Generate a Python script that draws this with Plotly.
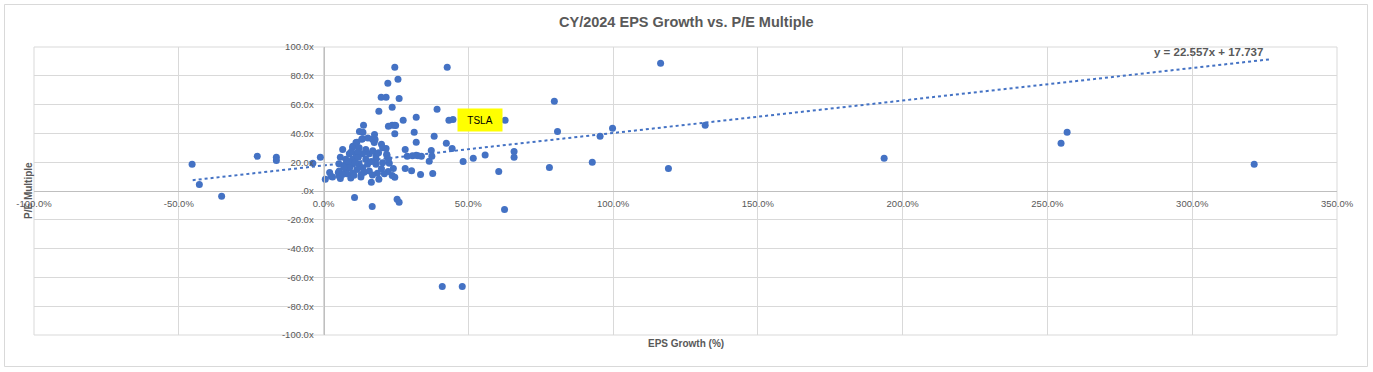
import plotly.graph_objects as go
import numpy as np

# ---- data (EPS growth in %, P/E multiple in x) ----
eps_growth = [
    -45.4, -42.9, -35.2, -22.9, -16.3, -16.3, -3.7, -1.1, 0.6, 2.1, 2.6,
    6.6, 5.8, 5.3, 5.1, 5.8, 10.1, 11.5, 12.4, 13.6, 13.8, 13.4, 15.3, 17.6, 17.8,
    19.1, 19.9, 21.6, 22.2, 23.7, 24.6, 25.7, 26.1, 22.4, 23.7, 24.6, 24.9, 24.6, 27.5,
    21.6, 21.9, 22.7, 24.1, 22.3, 23.7, 24.6, 19.1, 16.5, 16.8, 10.7, 25.4, 26.1,
    28.2, 28.2, 28.9, 30.4, 31.3, 32.0, 32.0, 30.7, 32.0, 32.6, 33.5, 33.8, 36.5,
    37.2, 37.4, 37.7, 38.2, 39.2, 41.0, 42.4, 42.7, 43.3, 44.7, 44.4,
    11.2, 13.2, 16.9, 17.5, 20.0, 20.4, 10.0, 12.3, 14.6, 8.9, 11.2, 13.5, 15.8, 18.1,
    7.7, 10.0, 14.6, 18.1, 21.8, 22.4, 7.7, 10.0, 12.3, 15.2, 18.1, 20.4,
    5.4, 7.7, 10.0, 13.5, 15.8, 18.6, 3.1, 5.4, 9.4, 12.9, 16.9,
    8.5, 11.0, 12.0, 9.0, 11.5, 14.0, 16.5, 13.0, 10.5, 8.0, 6.5, 12.0, 9.5, 17.0,
    19.0, 20.0, 21.0, 7.0,
    48.2, 47.9, 51.7, 55.8, 60.5, 62.5, 62.7, 65.8, 65.8, 78.0, 79.7, 80.8, 92.8,
    95.5, 99.8, 116.4, 119.1, 131.8, 193.6, 254.7, 256.8, 321.4,
]
pe_multiple = [
    18.5, 4.6, -3.7, 24.1, 23.4, 21.1, 19.2, 23.4, 8.1, 12.9, 10.2,
    28.9, 23.4, 19.0, 12.9, 8.6, 31.0, 33.8, 41.4, 40.8, 45.6, 36.2, 36.8, 39.2, 35.7,
    55.4, 65.1, 65.1, 74.8, 58.1, 86.0, 77.6, 64.2, 44.9, 45.6, 45.6, 45.4, 39.8, 49.1,
    29.6, 24.8, 19.2, 15.7, 13.6, 10.8, 9.5, 8.1, 6.0, -10.7, -4.5, -5.8, -7.8,
    28.9, 15.7, 24.1, 14.1, 40.8, 51.2, 33.8, 24.5, 24.8, 24.5, 11.5, 24.1, 20.6,
    28.2, 24.1, 12.2, 38.0, 56.7, -66.3, 33.1, 86.0, 49.1, 49.6, 29.6,
    33.6, 35.9, 35.9, 33.6, 32.4, 30.1, 30.1, 30.1, 28.9, 25.9, 25.9, 25.9, 25.9, 24.3,
    22.0, 22.0, 22.0, 22.0, 25.5, 22.0, 18.5, 18.5, 18.5, 18.5, 18.5, 19.7,
    13.9, 14.4, 12.3, 16.2, 13.9, 12.3, 9.7, 10.4, 9.0, 9.7, 11.1,
    20.5, 20.0, 23.5, 16.0, 15.0, 13.0, 20.5, 11.5, 11.0, 12.0, 11.5, 27.5, 27.0, 28.0,
    26.5, 15.5, 12.0, 16.5,
    20.4, -66.3, 22.7, 25.0, 13.6, -12.8, 49.1, 27.5, 23.4, 16.4, 62.3, 41.4, 19.9,
    38.0, 43.5, 88.7, 15.7, 45.6, 22.7, 33.1, 40.8, 18.5,
]

# trendline (as printed on the chart), x in fraction units
trend_slope = 22.557
trend_intercept = 17.737
trend_x_range = [-45.2, 327.5]  # % span of the drawn trendline

tsla_point = (44.7, 49.6)

x_ticks = [-100, -50, 0, 50, 100, 150, 200, 250, 300, 350]
x_tick_labels = ["-100.0%", "-50.0%", "0.0%", "50.0%", "100.0%", "150.0%",
                 "200.0%", "250.0%", "300.0%", "350.0%"]
y_ticks = [100, 80, 60, 40, 20, 0, -20, -40, -60, -80, -100]
y_tick_labels = ["100.0x", "80.0x", "60.0x", "40.0x", "20.0x", ".0x",
                 "-20.0x", "-40.0x", "-60.0x", "-80.0x", "-100.0x"]

title_text = "CY/2024 EPS Growth vs. P/E Multiple"
x_title = "EPS Growth (%)"
y_title = "P/E Multiple"

BLUE = "#4472C4"
GRID = "#D9D9D9"
AXIS = "#BFBFBF"
TXT = "#595959"
FONT = "Liberation Sans"

tx = np.linspace(trend_x_range[0], trend_x_range[1], 200)
ty = trend_slope * tx / 100.0 + trend_intercept

fig = go.Figure()
fig.add_trace(go.Scatter(x=tx, y=ty, mode="lines",
                         line=dict(color=BLUE, width=2, dash="dot"),
                         hoverinfo="skip", showlegend=False))
fig.add_trace(go.Scatter(x=eps_growth, y=pe_multiple, mode="markers",
                         marker=dict(color=BLUE, size=7), showlegend=False))

W, H = 1373, 372
ML, MR, MT, MB = 34, 36, 47, 37
pw, ph = W - ML - MR, H - MT - MB

def px_x(p):
    return (p - ML) / pw

def px_y(p):
    return (H - MB - p) / ph

x_rng = [x_ticks[0], x_ticks[-1]]
y_rng = [y_ticks[-1], y_ticks[0]]

tick_font = dict(size=9.5, color=TXT, family=FONT)

fig.update_layout(
    width=W, height=H,
    margin=dict(l=ML, r=MR, t=MT, b=MB, pad=0),
    paper_bgcolor="white", plot_bgcolor="white",
    font=dict(family=FONT, color=TXT, size=9),
    xaxis=dict(range=x_rng, tickvals=x_ticks, ticktext=x_tick_labels,
               showgrid=True, gridcolor=GRID, gridwidth=1,
               zeroline=False, showline=True, linecolor=AXIS, linewidth=1,
               anchor="free", position=(0 - y_rng[0]) / (y_rng[1] - y_rng[0]),
               ticks="", tickfont=tick_font,
               ticklabelstandoff=4, fixedrange=True),
    yaxis=dict(range=y_rng, tickvals=y_ticks, ticktext=y_tick_labels,
               showgrid=True, gridcolor=GRID, gridwidth=1,
               zeroline=False, showline=True, linecolor=AXIS, linewidth=1,
               anchor="free", position=(0 - x_rng[0]) / (x_rng[1] - x_rng[0]),
               ticks="", tickfont=tick_font,
               ticklabelstandoff=8, fixedrange=True),
    shapes=[
        dict(type="rect", xref="paper", yref="paper", x0=0, x1=1, y0=0, y1=1,
             line=dict(color=GRID, width=1), layer="below"),
        dict(type="rect", xref="paper", yref="paper",
             x0=px_x(4.5), x1=px_x(1367.5), y0=px_y(366.5), y1=px_y(4.5),
             line=dict(color=GRID, width=1)),
    ],
    annotations=[
        dict(text=f"<b>{title_text}</b>", xref="paper", yref="paper",
             x=px_x(686), y=px_y(22), xanchor="center", yanchor="middle",
             showarrow=False, font=dict(size=14.5, color=TXT, family=FONT)),
        dict(text=f"<b>{x_title}</b>", xref="paper", yref="paper",
             x=px_x(686), y=px_y(343), xanchor="center", yanchor="middle",
             showarrow=False, font=dict(size=10, color=TXT, family=FONT)),
        dict(text=f"<b>{y_title}</b>", xref="paper", yref="paper",
             x=px_x(28), y=0.5, xanchor="center", yanchor="middle",
             showarrow=False, textangle=-90,
             font=dict(size=10, color=TXT, family=FONT)),
        dict(text=f"<b>y = {trend_slope}x + {trend_intercept}</b>", xref="paper", yref="paper",
             x=px_x(1208), y=px_y(52), xanchor="center", yanchor="middle",
             showarrow=False, font=dict(size=11.5, color=TXT, family=FONT)),
        dict(text="TSLA", x=tsla_point[0], y=tsla_point[1], xref="x", yref="y",
             xanchor="left", yanchor="middle", xshift=4, showarrow=False,
             bgcolor="#FFFF00", width=40, height=18, borderpad=2,
             font=dict(size=10, color="black", family=FONT)),
    ],
)

fig.write_html("out.html", config={"displayModeBar": False},
               post_script="document.body.style.margin='0px';document.body.style.overflow='hidden';")
